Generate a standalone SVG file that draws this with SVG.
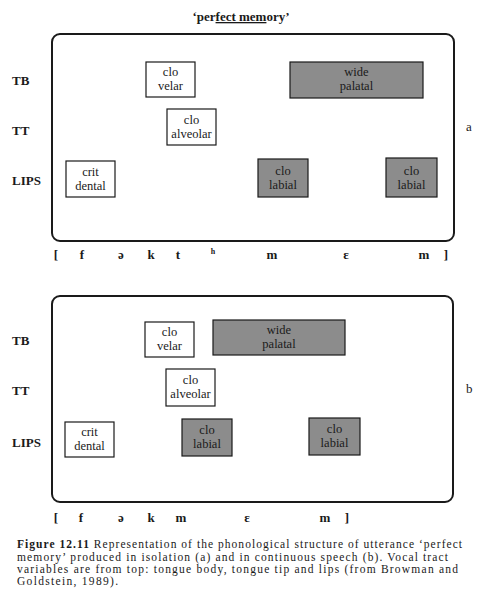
<svg xmlns="http://www.w3.org/2000/svg" width="487" height="607" viewBox="0 0 487 607">
<style>
text{font-family:"Liberation Serif","DejaVu Serif",serif;fill:#1a1a1a}
.panel{fill:none;stroke:#1a1a1a;stroke-width:2}
.w{fill:#fff;stroke:#1a1a1a;stroke-width:1.2}
.g{fill:#8c8c8c;stroke:#1a1a1a;stroke-width:1.2}
.bt{font-size:12.5px;text-anchor:middle}
.lab{font-size:13px;font-weight:bold}
.ph{font-size:13px;font-weight:bold;text-anchor:middle}
.sup{font-size:8px;font-weight:bold;text-anchor:middle}
.cap{font-size:11.5px}
</style>
<rect width="487" height="607" fill="#fff"/>
<text x="241" y="21" font-size="13" font-weight="bold" text-anchor="middle">‘per<tspan text-decoration="underline">fect mem</tspan>ory’</text>

<g id="panelA">
<rect class="panel" x="52" y="34" width="402" height="207" rx="8"/>
<text class="lab" x="12" y="85">TB</text>
<text class="lab" x="12" y="135">TT</text>
<text class="lab" x="12" y="185">LIPS</text>
<text x="466" y="131" font-size="13">a</text>
</g>
<g id="a-clo-velar"><rect class="w" x="146" y="62" width="49" height="35"/><text class="bt" x="170.5" y="76">clo</text><text class="bt" x="170.5" y="90">velar</text></g>
<g id="a-wide-palatal"><rect class="g" x="290" y="62" width="133" height="36"/><text class="bt" x="356.5" y="76">wide</text><text class="bt" x="356.5" y="90">palatal</text></g>
<g id="a-clo-alveolar"><rect class="w" x="167" y="109" width="49" height="36"/><text class="bt" x="191.5" y="124">clo</text><text class="bt" x="191.5" y="138">alveolar</text></g>
<g id="a-crit-dental"><rect class="w" x="66" y="161" width="49" height="36"/><text class="bt" x="90.5" y="176">crit</text><text class="bt" x="90.5" y="190">dental</text></g>
<g id="a-clo-labial-1"><rect class="g" x="258" y="159" width="50" height="38"/><text class="bt" x="283" y="175">clo</text><text class="bt" x="283" y="189">labial</text></g>
<g id="a-clo-labial-2"><rect class="g" x="386" y="158" width="51" height="39"/><text class="bt" x="411.5" y="175">clo</text><text class="bt" x="411.5" y="189">labial</text></g>
<g id="a-phones">
<text class="ph" x="56" y="259">[</text>
<text class="ph" x="82" y="259">f</text>
<text class="ph" x="121" y="259">ə</text>
<text class="ph" x="151" y="259">k</text>
<text class="ph" x="178" y="259">t</text>
<text class="sup" x="213" y="254">h</text>
<text class="ph" x="272" y="259">m</text>
<text class="ph" x="346" y="259">ɛ</text>
<text class="ph" x="424" y="259">m</text>
<text class="ph" x="446" y="259">]</text>
</g>

<g id="panelB">
<rect class="panel" x="52" y="296" width="401" height="206" rx="8"/>
<text class="lab" x="12" y="345">TB</text>
<text class="lab" x="12" y="395">TT</text>
<text class="lab" x="12" y="447">LIPS</text>
<text x="466" y="393" font-size="13">b</text>
</g>
<g id="b-clo-velar"><rect class="w" x="145" y="322" width="49" height="35"/><text class="bt" x="169.5" y="336">clo</text><text class="bt" x="169.5" y="350">velar</text></g>
<g id="b-wide-palatal"><rect class="g" x="213" y="320" width="132" height="35"/><text class="bt" x="279" y="334">wide</text><text class="bt" x="279" y="348">palatal</text></g>
<g id="b-clo-alveolar"><rect class="w" x="166" y="369" width="49" height="37"/><text class="bt" x="190.5" y="384">clo</text><text class="bt" x="190.5" y="398">alveolar</text></g>
<g id="b-crit-dental"><rect class="w" x="65" y="422" width="49" height="35"/><text class="bt" x="89.5" y="436">crit</text><text class="bt" x="89.5" y="450">dental</text></g>
<g id="b-clo-labial-1"><rect class="g" x="182" y="419" width="50" height="37"/><text class="bt" x="207" y="434">clo</text><text class="bt" x="207" y="448">labial</text></g>
<g id="b-clo-labial-2"><rect class="g" x="309" y="418" width="51" height="37"/><text class="bt" x="334.5" y="433">clo</text><text class="bt" x="334.5" y="447">labial</text></g>
<g id="b-phones">
<text class="ph" x="56" y="522">[</text>
<text class="ph" x="81" y="522">f</text>
<text class="ph" x="121" y="522">ə</text>
<text class="ph" x="151" y="522">k</text>
<text class="ph" x="181" y="522">m</text>
<text class="ph" x="247" y="522">ɛ</text>
<text class="ph" x="325" y="522">m</text>
<text class="ph" x="347" y="522">]</text>
</g>

<g id="connectors"/>

<g id="caption">
<text class="cap" x="17" y="548" textLength="445" lengthAdjust="spacing"><tspan font-weight="bold">Figure 12.11</tspan>   Representation of the phonological structure of utterance ‘perfect</text>
<text class="cap" x="17" y="561" textLength="431" lengthAdjust="spacing">memory’ produced in isolation (a) and in continuous speech (b). Vocal tract</text>
<text class="cap" x="17" y="573" textLength="441" lengthAdjust="spacing">variables are from top: tongue body, tongue tip and lips (from Browman and</text>
<text class="cap" x="17" y="585" textLength="101" lengthAdjust="spacing">Goldstein, 1989).</text>
</g>
</svg>
